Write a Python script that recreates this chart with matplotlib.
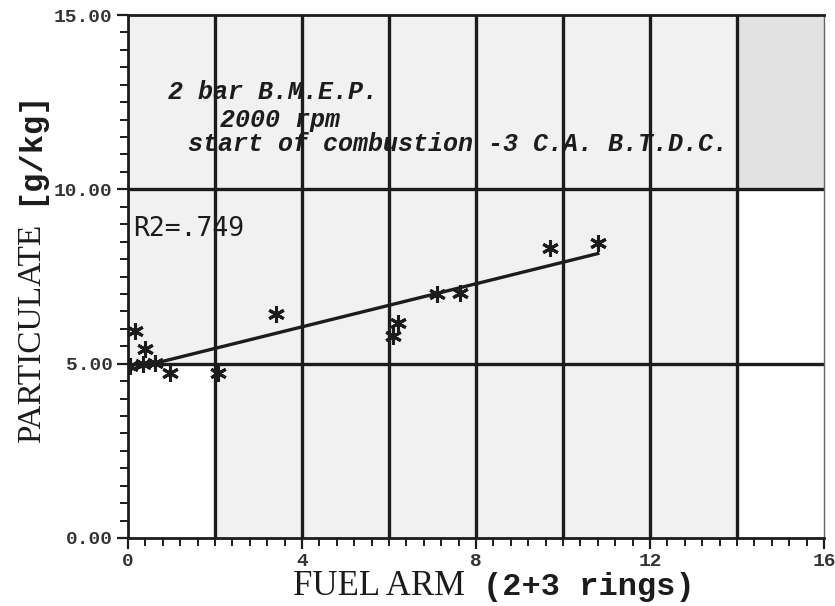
import numpy as np
import matplotlib.pyplot as plt
from matplotlib.ticker import MultipleLocator, FixedLocator

# fuel arm vs particulate, 2 bar BMEP / 2000 rpm run
fuel_arm = [0.05, 0.16, 0.35, 0.39, 0.62, 0.97, 2.07, 3.40, 6.10, 6.20, 7.10, 7.63, 9.70, 10.80]
particulate = [4.94, 5.94, 5.00, 5.43, 5.03, 4.74, 4.74, 6.42, 5.80, 6.17, 7.00, 7.03, 8.31, 8.46]

# least squares line reported with the data
fit_intercept = 4.82
fit_slope = 0.309
r2_text = "R2=.749"

x_ticks = [0, 4, 8, 12, 16]
x_tick_labels = ["0", "4", "8", "12", "16"]
y_ticks = [0, 5, 10, 15]
y_tick_labels = ["0.00", "5.00", "10.00", "15.00"]

ink = "#1c1c1c"

fig = plt.figure(figsize=(8.35, 6.06), dpi=100)
ax = fig.add_axes([128 / 835, 1 - 538 / 606, 696 / 835, 523 / 606])
ax.set_xlim(0, 16)
ax.set_ylim(0, 15)

# paper shading of the old plot sheet
ax.set_facecolor("#f1f1f1")
ax.axvspan(0, 2, ymin=0, ymax=5 / 15, color="white", zorder=0)
ax.axvspan(14, 16, ymin=0, ymax=10 / 15, color="white", zorder=0)
ax.axvspan(14, 16, ymin=10 / 15, ymax=1, color="#e2e2e2", zorder=0)

# grid lines
for gx in range(2, 16, 2):
    ax.axvline(gx, color=ink, lw=2.4, zorder=1)
for gy in (5, 10):
    ax.axhline(gy, color=ink, lw=2.4, zorder=1)

# data and fitted line
xs = np.array([min(fuel_arm), max(fuel_arm)])
ax.plot(xs, fit_intercept + fit_slope * xs, color=ink, lw=2.4, zorder=3)
ax.plot(fuel_arm, particulate, linestyle="none", marker=(6, 2, 0),
        markersize=12, markeredgewidth=2.2, color=ink, zorder=4)

# annotations
note_font = dict(family="Liberation Mono", weight="bold", style="italic",
                 size=18, color=ink, va="center", ha="left")
ax.text(0.92, 12.8, "2 bar B.M.E.P.", **note_font)
ax.text(2.11, 12.0, "2000 rpm", **note_font)
ax.text(1.38, 11.29, "start of combustion -3 C.A. B.T.D.C.", **note_font)
ax.text(0.11, 8.86, r2_text, family="DejaVu Sans Mono", size=19,
        color=ink, va="center", ha="left")

# axes and ticks
ax.xaxis.set_major_locator(FixedLocator(x_ticks))
ax.xaxis.set_minor_locator(MultipleLocator(0.4))
ax.yaxis.set_major_locator(FixedLocator(y_ticks))
ax.yaxis.set_minor_locator(MultipleLocator(0.5))
ax.set_xticklabels(x_tick_labels, family="Liberation Mono", weight="bold",
                   size=14, color="#333333")
ax.set_yticklabels(y_tick_labels, family="Liberation Mono", weight="bold",
                   size=14, color="#333333")
ax.tick_params(which="major", direction="out", length=8, width=1.6,
               color=ink, pad=3)
ax.tick_params(which="minor", direction="out", length=6, width=1.4,
               color=ink)

for side in ("left", "bottom", "top"):
    ax.spines[side].set_linewidth(2.0)
    ax.spines[side].set_color(ink)
ax.spines["right"].set_linewidth(1.0)
ax.spines["right"].set_color("#666666")

# axis titles, mixed fonts as on the original plotter output
fig.text(293 / 835, 1 - 595 / 606, "FUEL ARM", family="Liberation Serif",
         size=25, color=ink, ha="left", va="baseline")
fig.text(483 / 835, 1 - 595 / 606, "(2+3 rings)", family="Liberation Mono",
         weight="bold", size=23, color=ink, ha="left", va="baseline")
fig.text(32 / 835, 1 - 443 / 606, "PARTICULATE", family="Liberation Serif",
         size=24, color=ink, rotation=90, ha="center", va="bottom")
fig.text(29 / 835, 1 - 205 / 606, "[g/kg]", family="Liberation Mono",
         weight="bold", size=23, color=ink, rotation=90, ha="center", va="bottom")

fig.savefig("out.png", dpi=100)
